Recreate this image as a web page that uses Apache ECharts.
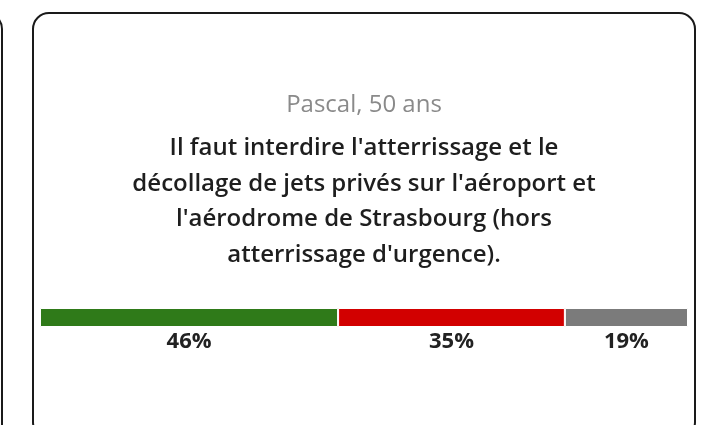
<!DOCTYPE html>
<html>
<head>
<meta charset="utf-8">
<script src="https://cdn.jsdelivr.net/npm/echarts@6/dist/echarts.min.js"></script>
<style>
html,body{margin:0;padding:0;background:#fff;}
#chart{width:702px;height:425px;}
</style>
</head>
<body>
<div id="chart"></div>
<script>
// Data
const author = "Pascal, 50 ans";
const statementLines = [
  "Il faut interdire l'atterrissage et le",
  "décollage de jets privés sur l'aéroport et",
  "l'aérodrome de Strasbourg (hors",
  "atterrissage d'urgence)."
];
const categories = ["Pour", "Contre", "Sans avis"];
const values = [46, 35, 19];
const colors = ["#2f7a19", "#d20000", "#7b7b7b"];

const chart = echarts.init(document.getElementById('chart'), null, {renderer: 'canvas'});

const graphics = [
  {type: 'rect', shape: {x: -700, y: 13, width: 702, height: 440, r: 16},
   style: {fill: 'none', stroke: '#1a1a1a', lineWidth: 2}, z: 1},
  {type: 'rect', shape: {x: 33, y: 13, width: 662, height: 425, r: 16},
   style: {fill: 'none', stroke: '#1a1a1a', lineWidth: 2}, z: 1},
  {type: 'text', x: 364, y: 105,
   style: {text: author, fill: '#8a8a8a', font: '400 24px "Open Sans"', textAlign: 'center', textVerticalAlign: 'middle'}, z: 2}
];
statementLines.forEach((t, i) => {
  graphics.push({type: 'text', x: 364, y: 148 + i * 35.7,
    style: {text: t, fill: '#1e1e1e', font: '600 24px "Open Sans"', textAlign: 'center', textVerticalAlign: 'middle'}, z: 2});
});

chart.setOption({
  backgroundColor: '#ffffff',
  animation: false,
  grid: {left: 40, right: 14, top: 308, height: 19, containLabel: false},
  xAxis: {type: 'value', min: 0, max: 100, show: false},
  yAxis: {type: 'category', data: ['vote'], show: false},
  graphic: graphics,
  series: categories.map((c, i) => ({
    name: c,
    type: 'bar',
    stack: 'total',
    barWidth: 19,
    data: [values[i]],
    itemStyle: {color: colors[i], borderColor: '#ffffff', borderWidth: 1},
    label: {show: true, position: 'bottom', distance: 4, formatter: '{c}%',
      fontFamily: 'Open Sans', fontWeight: 'bold', fontSize: 22, color: '#222'}
  }))
});
</script>
</body>
</html>
